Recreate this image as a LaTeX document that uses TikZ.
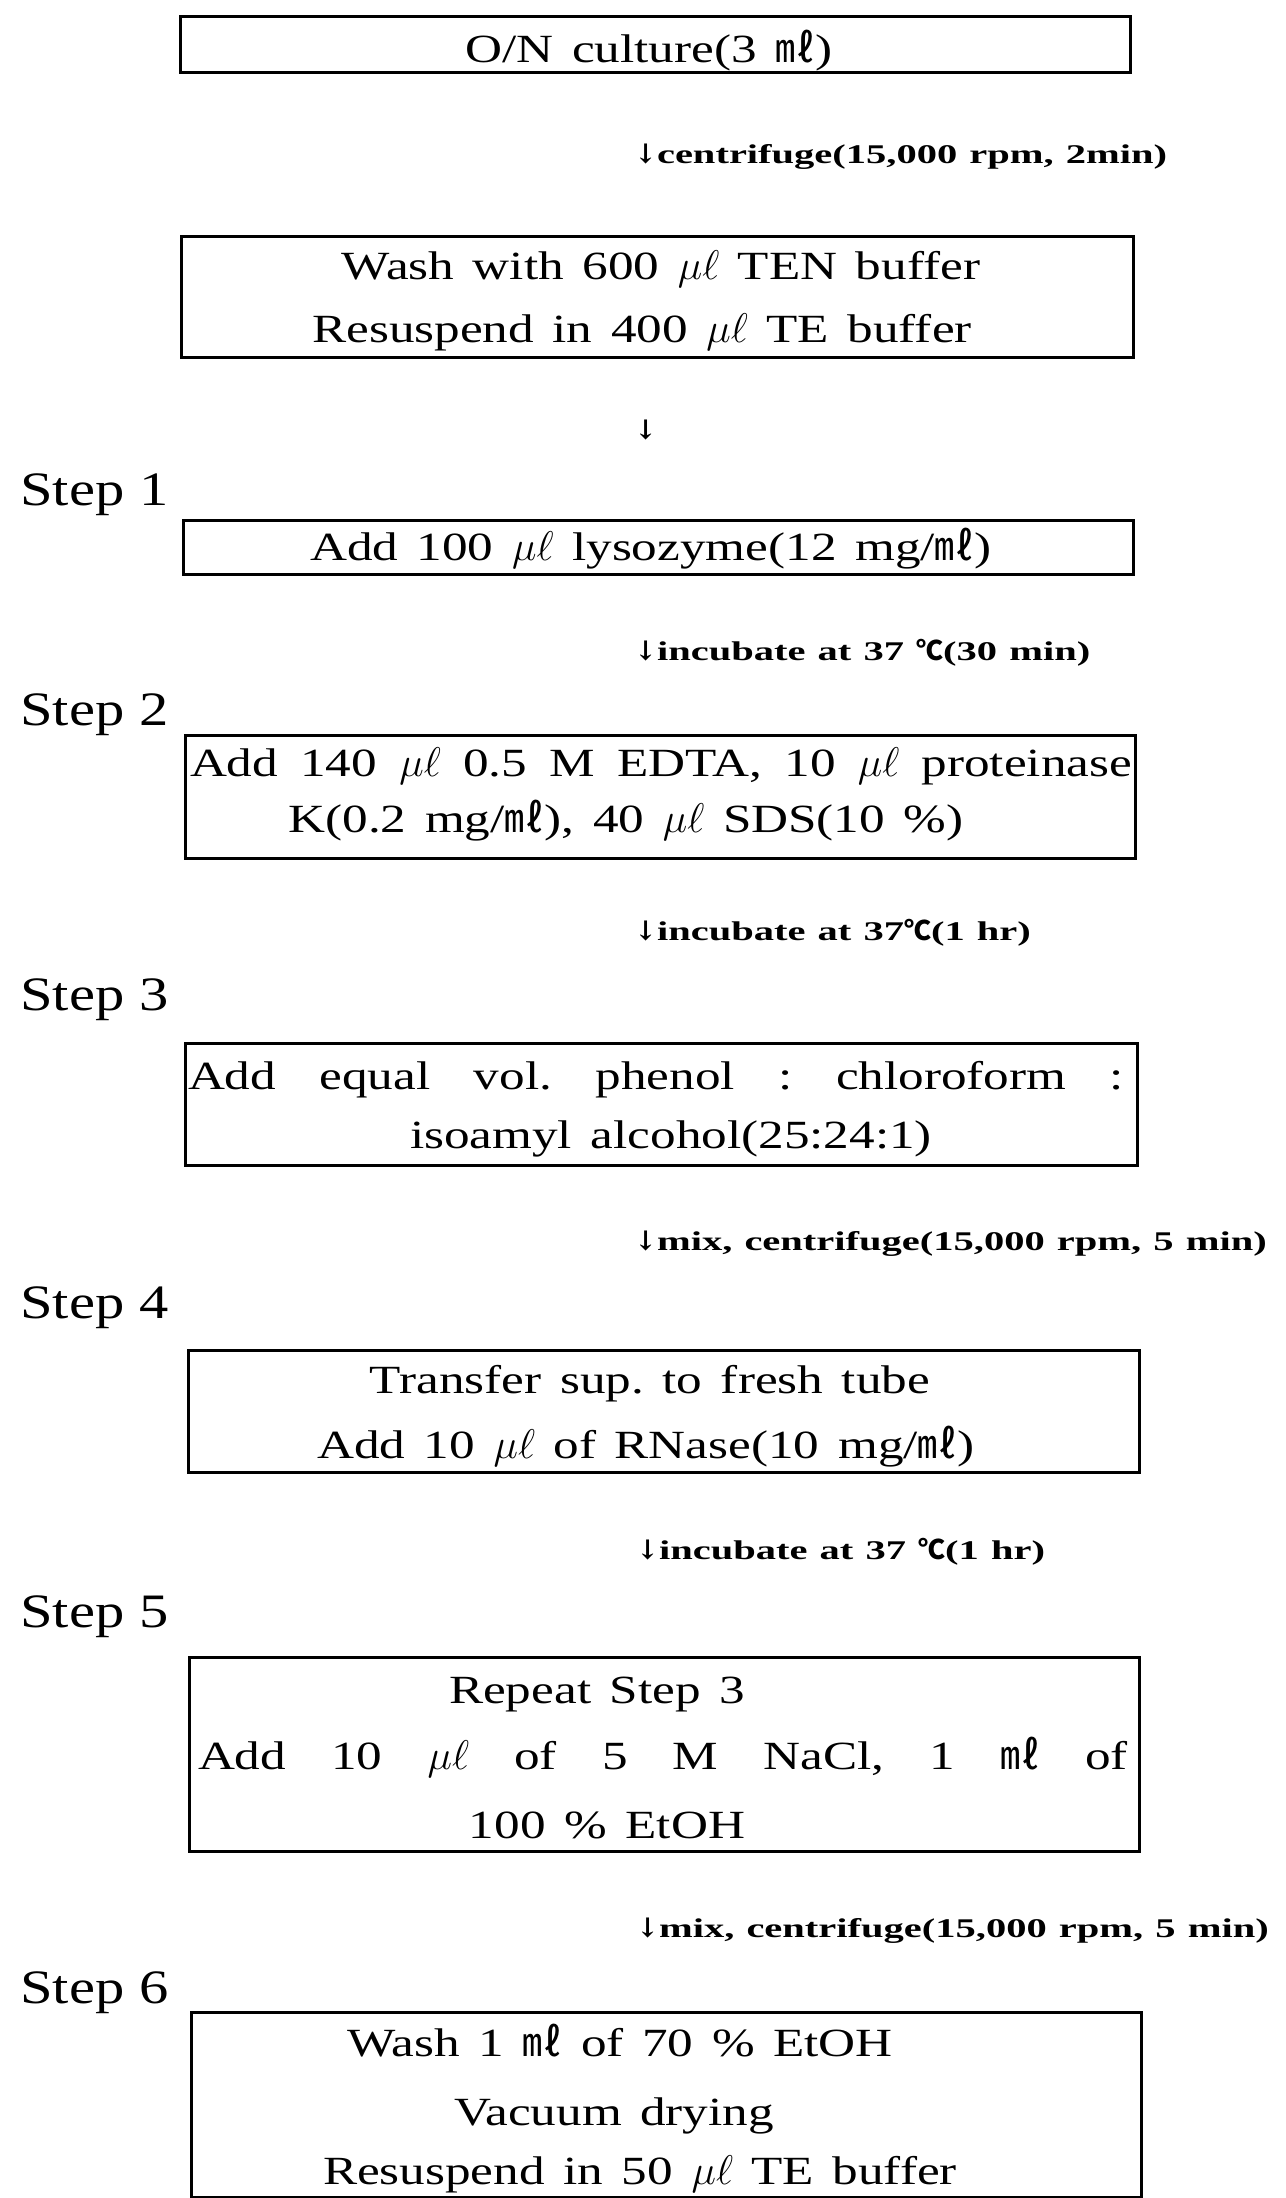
\documentclass[tikz,border=0pt]{standalone}
\usepackage{fontspec}
\setmainfont{Liberation Serif}
\newfontfamily\boxfont{Liberation Serif}[FakeStretch=1.28,WordSpace=1.45]
\newfontfamily\labfont{Liberation Serif}[FakeStretch=1.5,WordSpace=1.2]
\newfontfamily\stepfont{Liberation Serif}[FakeStretch=1.22]
\newfontfamily\cjk{Noto Sans CJK KR}
\newfontfamily\arrfont{DejaVu Serif}
\newcommand\mlunit{{\cjk ㎖}}
\newcommand\uL{$\mu\ell$}
\newcommand\degC{{\cjk ℃}}
\newcommand\darr{{\arrfont\bfseries ↓}}
\frenchspacing
\tikzset{
  pbox/.style={draw, line width=1.5pt, inner sep=0pt},
  btxt/.style={font=\boxfont\fontsize{20}{24}\selectfont, inner sep=0pt, anchor=base},
  ltxt/.style={font=\labfont\bfseries\fontsize{13.5}{16}\selectfont, inner sep=0pt, anchor=base west},
  stxt/.style={font=\stepfont\fontsize{24}{28}\selectfont, inner sep=0pt, anchor=base west}
}
\begin{document}
\begin{tikzpicture}[x=0.5pt,y=-0.5pt]
\useasboundingbox[fill=white] (0,0) rectangle (1285,2198);
% boxes
\node[pbox, minimum width=475pt, minimum height=28pt] (b0) at (655,45) {};
\node[pbox, minimum width=476pt, minimum height=60.5pt] (b1) at (657,297.5) {};
\node[pbox, minimum width=475pt, minimum height=27pt] (b2) at (658,547) {};
\node[pbox, minimum width=475pt, minimum height=61.5pt] (b3) at (660,796.5) {};
\node[pbox, minimum width=476pt, minimum height=61pt] (b4) at (661,1104) {};
\node[pbox, minimum width=475.5pt, minimum height=61pt] (b5) at (663.5,1411) {};
\node[pbox, minimum width=475pt, minimum height=97pt] (b6) at (664,1754) {};
\node[pbox, minimum width=475pt, minimum height=92.5pt] (b7) at (666,2104.5) {};
% box texts
\node[btxt] (t0) at (649,63) {O/N culture(3 \mlunit)};
\node[btxt] (t1a) at (661,280) {Wash with 600 \uL{} TEN buffer};
\node[btxt] (t1b) at (642,343) {Resuspend in 400 \uL{} TE buffer};
\node[btxt] (t2) at (651,560) {Add 100 \uL{} lysozyme(12 mg/\mlunit)};
\node[btxt] (t3a) at (661,776) {\makebox[471pt][s]{Add 140 \uL{} 0.5 M EDTA, 10 \uL{} proteinase}};
\node[btxt] (t3b) at (626,832) {K(0.2 mg/\mlunit), 40 \uL{} SDS(10 \%)};
\node[btxt] (t4a) at (656,1089) {\makebox[468pt][s]{Add equal vol. phenol : chloroform :}};
\node[btxt] (t4b) at (671,1148) {isoamyl alcohol(25:24:1)};
\node[btxt] (t5a) at (650,1393) {Transfer sup. to fresh tube};
\node[btxt] (t5b) at (646,1458) {Add 10 \uL{} of RNase(10 mg/\mlunit)};
\node[btxt] (t6a) at (597,1703) {Repeat Step 3};
\node[btxt] (t6b) at (663,1769) {\makebox[465pt][s]{Add 10 \uL{} of 5 M NaCl, 1 \mlunit{} of}};
\node[btxt] (t6c) at (607,1838) {100 \% EtOH};
\node[btxt] (t7a) at (620,2056) {Wash 1 \mlunit{} of 70 \% EtOH};
\node[btxt] (t7b) at (614,2125) {Vacuum drying};
\node[btxt] (t7c) at (640,2184) {Resuspend in 50 \uL{} TE buffer};
% arrow labels
\node[ltxt] (l0) at (634,164) {\darr centrifuge(15,000 rpm, 2min)};
\node[ltxt] (a0) at (634,440) {\darr};
\node[ltxt] (l1) at (634,660) {\darr incubate at 37 \degC(30 min)};
\node[ltxt] (l2) at (634,940) {\darr incubate at 37\degC(1 hr)};
\node[ltxt] (l3) at (634,1250) {\darr mix, centrifuge(15,000 rpm, 5 min)};
\node[ltxt] (l4) at (636,1559) {\darr incubate at 37 \degC(1 hr)};
\node[ltxt] (l5) at (636,1937) {\darr mix, centrifuge(15,000 rpm, 5 min)};
% step labels
\node[stxt] (s1) at (20,505) {Step 1};
\node[stxt] (s2) at (20,725) {Step 2};
\node[stxt] (s3) at (20,1010) {Step 3};
\node[stxt] (s4) at (20,1318) {Step 4};
\node[stxt] (s5) at (20,1627) {Step 5};
\node[stxt] (s6) at (20,2003) {Step 6};
\end{tikzpicture}
\end{document}
